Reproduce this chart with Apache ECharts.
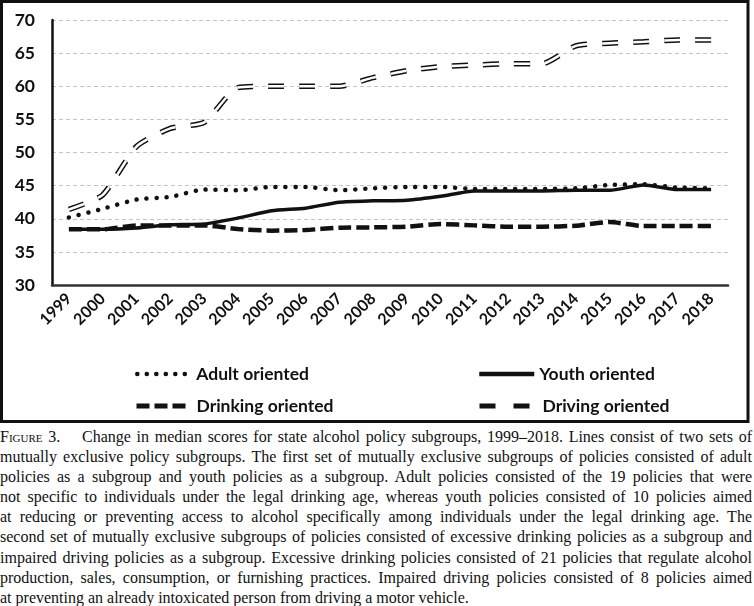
<!DOCTYPE html>
<html>
<head>
<meta charset="utf-8">
<script src="https://cdn.jsdelivr.net/npm/echarts@6/dist/echarts.min.js"></script>
<style>
  html, body { margin: 0; padding: 0; background: #fff; }
  #chart { position: absolute; left: 0; top: 0; width: 754px; height: 425px; }
  #caption {
    position: absolute; left: 0; top: 427px; width: 752px;
    font-family: "Liberation Serif", "DejaVu Serif", serif; font-size: 16px; line-height: 20.1px; color: #111;
  }
  #caption .ln { white-space: nowrap; text-align: justify; text-align-last: justify; }
  #caption .ln.last { text-align-last: left; }
  .sc { font-variant: small-caps; }
</style>
</head>
<body>
<div id="chart"></div>
<div id="caption">
  <div class="ln"><span class="sc">Figure</span> 3.&emsp; Change in median scores for state alcohol policy subgroups, 1999–2018. Lines consist of two sets of</div>
  <div class="ln">mutually exclusive policy subgroups. The first set of mutually exclusive subgroups of policies consisted of adult</div>
  <div class="ln">policies as a subgroup and youth policies as a subgroup. Adult policies consisted of the 19 policies that were</div>
  <div class="ln">not specific to individuals under the legal drinking age, whereas youth policies consisted of 10 policies aimed</div>
  <div class="ln">at reducing or preventing access to alcohol specifically among individuals under the legal drinking age. The</div>
  <div class="ln">second set of mutually exclusive subgroups of policies consisted of excessive drinking policies as a subgroup and</div>
  <div class="ln">impaired driving policies as a subgroup. Excessive drinking policies consisted of 21 policies that regulate alcohol</div>
  <div class="ln">production, sales, consumption, or furnishing practices. Impaired driving policies consisted of 8 policies aimed</div>
  <div class="ln last">at preventing an already intoxicated person from driving a motor vehicle.</div>
</div>
<script>
var years = ['1999','2000','2001','2002','2003','2004','2005','2006','2007','2008','2009','2010','2011','2012','2013','2014','2015','2016','2017','2018'];
var adultOriented = [40.2, 41.5, 42.9, 43.3, 44.4, 44.3, 44.8, 44.8, 44.3, 44.6, 44.8, 44.8, 44.5, 44.5, 44.5, 44.6, 45.1, 45.2, 44.7, 44.6];
var youthOriented = [38.4, 38.4, 38.6, 39.1, 39.2, 40.1, 41.2, 41.6, 42.5, 42.7, 42.8, 43.4, 44.2, 44.2, 44.2, 44.3, 44.3, 45.1, 44.4, 44.4];
var drinkingOriented = [38.4, 38.4, 39.0, 39.0, 39.0, 38.45, 38.2, 38.3, 38.65, 38.7, 38.8, 39.2, 39.0, 38.8, 38.8, 38.95, 39.5, 38.9, 38.9, 38.9];
var drivingOriented = [41.4, 43.6, 50.9, 53.65, 54.55, 59.8, 60.0, 60.0, 60.0, 61.3, 62.35, 62.95, 63.2, 63.4, 63.4, 66.1, 66.5, 66.7, 67.0, 67.0];
var yTicks = { min: 30, max: 70, interval: 5 };

var FONT = 'Lato';
var chart = echarts.init(document.getElementById('chart'), null, { renderer: 'canvas' });

function legendAt(name, left, top, w, pad, lineStyle) {
  return {
    data: [name], left: left, top: top, padding: 0, itemWidth: w, itemHeight: 16,
    selectedMode: false,
    itemStyle: { opacity: 0, color: 'transparent', borderWidth: 0 },
    lineStyle: lineStyle,
    textStyle: { fontFamily: FONT, fontWeight: 'bold', fontSize: 17.5, color: '#111', padding: [0, 0, 0, pad] }
  };
}

chart.setOption({
  backgroundColor: '#fff',
  animation: false,
  graphic: [{
    type: 'rect', shape: { x: 1.5, y: 1.5, width: 746.5, height: 420 },
    style: { fill: 'none', stroke: '#111', lineWidth: 3 }, z: 100
  }],
  grid: { left: 52, right: 26, top: 20, bottom: 140 },
  legend: [
    legendAt('Adult oriented', 135, 365, 48, 6, { color: '#111', width: 4.5, type: [0.1, 9.4], cap: 'round' }),
    legendAt('Youth oriented', 477, 365, 55, 0, { color: '#111', width: 4.5, type: 'solid' }),
    legendAt('Drinking oriented', 134, 397, 49, 6, { color: '#111', width: 5, type: [13, 5] }),
    legendAt('Driving oriented', 477, 397, 50, 8, { color: '#111', width: 5, type: [16, 18] })
  ],
  xAxis: {
    type: 'category', data: years, boundaryGap: true,
    axisLine: { lineStyle: { color: '#333', width: 2.5 } },
    axisTick: { show: false },
    axisLabel: { rotate: 45, margin: 11, fontFamily: FONT, fontWeight: 'bold', fontSize: 16, color: '#111', interval: 0 }
  },
  yAxis: {
    type: 'value', min: yTicks.min, max: yTicks.max, interval: yTicks.interval,
    axisLine: { show: true, lineStyle: { color: '#111', width: 2.5 } },
    axisTick: { show: false },
    axisLabel: { margin: 17, fontFamily: FONT, fontWeight: 'bold', fontSize: 17.5, color: '#111' },
    splitLine: { show: true, lineStyle: { color: '#c4c4c4', width: 1, type: [4, 3] } }
  },
  series: [
    {
      name: 'Adult oriented', type: 'line', data: adultOriented, symbol: 'none', smooth: 0.2,
      color: '#111',
      lineStyle: { color: '#111', width: 4.5, type: [0.1, 9.9], cap: 'round' }, z: 4
    },
    {
      name: 'Youth oriented', type: 'line', data: youthOriented, symbol: 'none', smooth: 0.2,
      color: '#111',
      lineStyle: { color: '#111', width: 3.5, type: 'solid' }, z: 3
    },
    {
      name: 'Drinking oriented', type: 'line', data: drinkingOriented, symbol: 'none', smooth: 0.2,
      color: '#111',
      lineStyle: { color: '#111', width: 4.5, type: [13, 5] }, z: 2
    },
    {
      name: 'Driving oriented', type: 'line', data: drivingOriented, symbol: 'none', smooth: 0.2,
      color: '#111',
      lineStyle: { color: '#111', width: 5.5, type: [16, 15] }, z: 5
    },
    {
      name: 'Driving oriented inner', type: 'line', data: drivingOriented, symbol: 'none', smooth: 0.2,
      color: '#fff', silent: true,
      lineStyle: { color: '#fff', width: 2.5, type: [16, 15] }, z: 6
    }
  ]
});
</script>
</body>
</html>
